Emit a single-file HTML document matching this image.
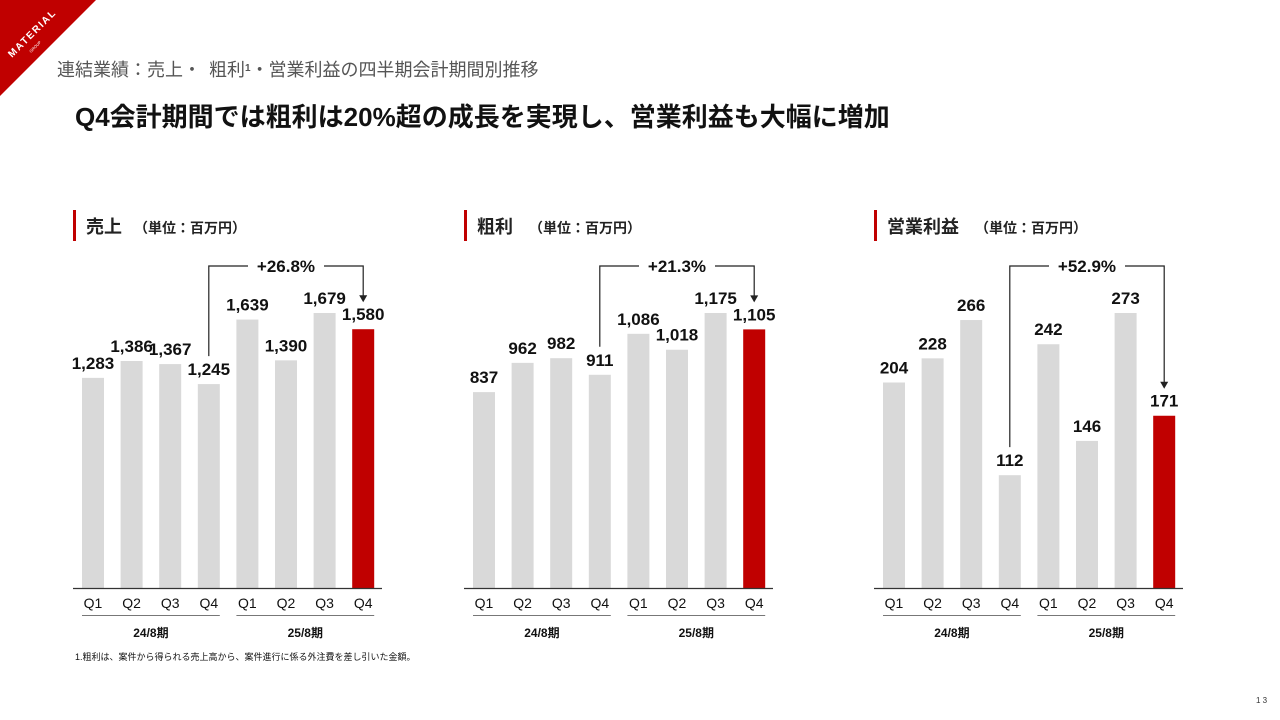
<!DOCTYPE html>
<html><head><meta charset="utf-8">
<style>
body{margin:0;width:1280px;height:720px;background:#fff;overflow:hidden;position:relative;font-family:"Liberation Sans","Noto Sans CJK JP",sans-serif;}
.abs{position:absolute;}
</style></head>
<body>
<svg class="abs" style="left:0;top:0" width="1280" height="720">
  <polygon points="0,0 96,0 0,96" fill="#c00000"/>
  <text x="0" y="0" transform="translate(12,58) rotate(-45)" font-size="10" font-weight="bold" fill="#fff" textLength="62" font-family="Liberation Sans,sans-serif">MATERIAL</text>
  <text x="0" y="0" transform="translate(31,53) rotate(-45)" font-size="4" fill="#fff" font-family="Liberation Sans,sans-serif">GROUP</text>
  <text x="57" y="76" font-size="18" fill="#555"><tspan>連結業績：売上・</tspan><tspan dx="8">粗利</tspan><tspan font-size="10" font-weight="bold" dy="-5">1</tspan><tspan dy="5">・営業利益の四半期会計期間別推移</tspan></text>
  <text x="75" y="126" font-size="26" font-weight="bold" fill="#111">Q4会計期間では粗利は20%超の成長を実現し、営業利益も大幅に増加</text>
  <text x="75" y="660" font-size="9" fill="#111">1.粗利は、案件から得られる売上高から、案件進行に係る外注費を差し引いた金額。</text>
  <text x="1256" y="703" font-size="8" fill="#333">1 3</text>
  <g id="charts"></g>
</svg>
<script>
const quarters = ["Q1","Q2","Q3","Q4","Q1","Q2","Q3","Q4"];
const periods = ["24/8期","25/8期"];
const salesValues = [1283,1386,1367,1245,1639,1390,1679,1580];
const grossValues = [837,962,982,911,1086,1018,1175,1105];
const opValues = [204,228,266,112,242,146,273,171];
const growthLabels = ["+26.8%","+21.3%","+52.9%"];
const chartTitles = ["売上","粗利","営業利益"];
const seriesList = [salesValues, grossValues, opValues];

const NS="http://www.w3.org/2000/svg";
const root=document.getElementById('charts');
function mk(tag,attrs,parent){const e=document.createElementNS(NS,tag);for(const k in attrs)e.setAttribute(k,attrs[k]);(parent||root).appendChild(e);return e;}
const origins=[73,464,874];
const base=588, plotH=275, step=38.6, barW=22;
seriesList.forEach((vals,ci)=>{
  const x0=origins[ci];
  const g=mk('g',{});
  
  
  const maxV=Math.max(...vals);
  const y=v=>base-v/maxV*plotH;
  const xc=i=>x0+20+i*step;
  const hb=mk('rect',{x:x0,y:210,width:3,height:31,fill:'#c00000'},g);
  
  
  const t=mk('text',{x:x0+13,y:233,'font-size':18,'font-weight':'bold',fill:'#222'},g);
  
  
  t.textContent=chartTitles[ci];
  const u=mk('tspan',{'font-size':14,dx:ci==0?12:16},t);u.textContent='（単位：百万円）';
  vals.forEach((v,i)=>{
    const r=mk('rect',{x:xc(i)-barW/2,y:y(v),width:barW,height:base-y(v),fill:i==7?'#c00000':'#d9d9d9'},g);
    
    
    const l=mk('text',{x:xc(i),y:y(v)-9,'text-anchor':'middle','font-size':17,'font-weight':'bold',fill:'#111'},g);
    
    
    l.textContent=v.toLocaleString('en-US');
    const q=mk('text',{x:xc(i),y:608,'text-anchor':'middle','font-size':14,fill:'#111'},g);
    
    
    q.textContent=quarters[i];
  });
  const ax=mk('line',{x1:x0,x2:x0+309,y1:base+0.5,y2:base+0.5,stroke:'#333','stroke-width':1.2},g);
  
  
  [0,1].forEach(p=>{
    const a=xc(p*4)-11,b=xc(p*4+3)+11;
    mk('line',{x1:a,x2:b,y1:615.5,y2:615.5,stroke:'#777','stroke-width':1},g);
    const pl=mk('text',{x:(a+b)/2,y:637,'text-anchor':'middle','font-size':12,'font-weight':'bold',fill:'#111'},g);
    
    
    pl.textContent=periods[p];
  });
  const lx=xc(3), rx=xc(7), by=266;
  const ly=y(vals[3])-28, ry=y(vals[7])-27;
  const mid=(lx+rx)/2;
  const br=mk('path',{d:`M${lx},${ly} V${by} H${mid-38} M${mid+38},${by} H${rx} V${ry-6}`,stroke:'#222','stroke-width':1.2,fill:'none'},g);
  
  
  mk('polygon',{points:`${rx-4},${ry-7} ${rx+4},${ry-7} ${rx},${ry}`,fill:'#222'},g);
  const gl=mk('text',{x:mid,y:272,'text-anchor':'middle','font-size':17,'font-weight':'bold',fill:'#111'},g);
  
  
  gl.textContent=growthLabels[ci];
});
</script>
</body></html>
